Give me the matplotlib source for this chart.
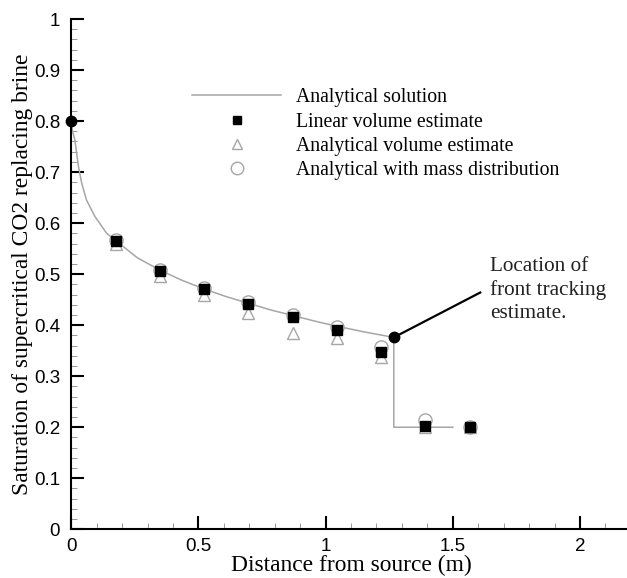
import numpy as np
import matplotlib.pyplot as plt
from matplotlib.ticker import MultipleLocator

# Analytical Buckley-Leverett type profile
x_analytic = [0.0, 0.005, 0.014, 0.028, 0.041, 0.060, 0.093, 0.139, 0.174, 0.26,
              0.348, 0.435, 0.522, 0.609, 0.696, 0.783, 0.87, 0.957, 1.044, 1.15,
              1.268, 1.268, 1.5]
s_analytic = [0.80, 0.78, 0.763, 0.711, 0.678, 0.645, 0.613, 0.580, 0.566, 0.532,
              0.508, 0.488, 0.471, 0.456, 0.443, 0.430, 0.419, 0.408, 0.398, 0.387,
              0.376, 0.20, 0.20]

# Cell-centre estimates
x_cells = [0.174, 0.348, 0.522, 0.696, 0.870, 1.044, 1.218, 1.392, 1.566]
s_linear = [0.565, 0.507, 0.470, 0.441, 0.416, 0.391, 0.347, 0.202, 0.201]
s_analytic_vol = [0.560, 0.496, 0.459, 0.423, 0.384, 0.374, 0.338, 0.200, 0.200]
s_mass_dist = [0.566, 0.509, 0.473, 0.445, 0.420, 0.396, 0.357, 0.214, 0.200]

# Source value and front-tracking estimate
x_source, s_source = 0.0, 0.80
x_front, s_front = 1.268, 0.376

serif = ['Liberation Serif', 'DejaVu Serif']
sans = ['Liberation Sans', 'DejaVu Sans']

fig = plt.figure(figsize=(6.27, 5.78), dpi=100)
W, H = 627, 578
ax = fig.add_axes([71.3 / W, 48.7 / H, 559.5 / W, 510.3 / H])

gray = '#a6a6a6'
ax.plot(x_analytic, s_analytic, color=gray, lw=1.1, zorder=2)
ax.plot(x_cells, s_mass_dist, ls='none', marker='o', ms=9.5, mfc='white', mec=gray,
        mew=1.0, zorder=3)
ax.plot(x_cells, s_analytic_vol, ls='none', marker='^', ms=8.5, mfc='white', mec=gray,
        mew=1.0, zorder=4)
ax.plot(x_cells, s_linear, ls='none', marker='s', ms=6.5, color='black', zorder=5)

# legend proxies
h_line, = ax.plot([], [], color=gray, lw=1.1)
h_sq, = ax.plot([], [], ls='none', marker='s', ms=5.5, color='black')
h_tri, = ax.plot([], [], ls='none', marker='^', ms=7, mfc='white', mec=gray, mew=1.0)
h_circ, = ax.plot([], [], ls='none', marker='o', ms=9, mfc='white', mec=gray, mew=1.0)
ax.legend([h_line, h_sq, h_tri, h_circ],
          ['Analytical solution', 'Linear volume estimate',
           'Analytical volume estimate', 'Analytical with mass distribution'],
          loc='upper left', bbox_to_anchor=(0.216, 0.864), frameon=False,
          borderpad=0, borderaxespad=0, handlelength=4.5, handletextpad=0.75,
          labelspacing=0.27, numpoints=1, prop={'family': serif, 'size': 14.2})

ax.plot([x_source], [s_source], marker='o', ms=7.5, color='black', clip_on=False, zorder=6)
ax.plot([x_front], [s_front], marker='o', ms=7.5, color='black', zorder=6)
ax.plot([x_front, 1.608], [s_front, 0.464], color='black', lw=1.6, zorder=6)
ax.text(1.646, 0.533, 'Location of\nfront tracking\nestimate.', ha='left', va='top',
        family=serif, size=15.3, linespacing=1.28, color='#222222')

ax.set_xlim(0, 2.2)
ax.set_ylim(0, 1)
ax.xaxis.set_minor_locator(MultipleLocator(0.1))
ax.yaxis.set_minor_locator(MultipleLocator(0.02))
ax.set_xticks([0, 0.5, 1, 1.5, 2])
ax.set_xticklabels(['0', '0.5', '1', '1.5', '2'])
ax.set_yticks(np.round(np.arange(0, 1.01, 0.1), 1))
ax.set_yticklabels(['0', '0.1', '0.2', '0.3', '0.4', '0.5', '0.6', '0.7', '0.8', '0.9', '1'])

for side in ('top', 'right'):
    ax.spines[side].set_visible(False)
for side in ('left', 'bottom'):
    ax.spines[side].set_linewidth(1.5)

ax.tick_params(which='major', direction='in', length=9.5, width=1.5, pad=6,
               labelsize=13.5)
ax.tick_params(which='minor', direction='in', length=4.5, width=0.6, color='#888888')
ax.tick_params(axis='y', which='major', pad=8)
for lbl in ax.get_xticklabels() + ax.get_yticklabels():
    lbl.set_family(sans)

ax.set_xlabel('Distance from source (m)', family=serif, size=16.9, labelpad=0)
ax.set_ylabel('Saturation of supercritical CO2 replacing brine', family=serif, size=16.9,
              labelpad=1)

fig.savefig('out.png', dpi=100)
